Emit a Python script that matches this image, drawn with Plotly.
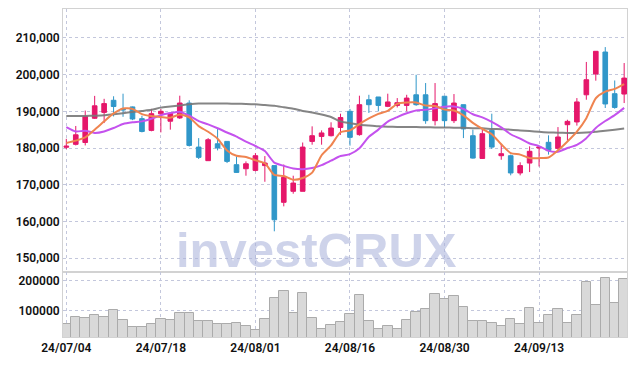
import plotly.graph_objects as go
from plotly.subplots import make_subplots

dates = ["24/07/04","24/07/05","24/07/08","24/07/09","24/07/10","24/07/11","24/07/12","24/07/15","24/07/16","24/07/17",
         "24/07/18","24/07/19","24/07/22","24/07/23","24/07/24","24/07/25","24/07/26","24/07/29","24/07/30","24/07/31",
         "24/08/01","24/08/02","24/08/05","24/08/06","24/08/07","24/08/08","24/08/09","24/08/12","24/08/13","24/08/14",
         "24/08/16","24/08/19","24/08/20","24/08/21","24/08/22","24/08/23","24/08/26","24/08/27","24/08/28","24/08/29",
         "24/08/30","24/09/02","24/09/03","24/09/04","24/09/05","24/09/06","24/09/09","24/09/10","24/09/11","24/09/12",
         "24/09/13","24/09/19","24/09/20","24/09/23","24/09/24","24/09/25","24/09/26","24/09/27","24/09/30","24/10/02"]

open_ = [180200,181000,181500,188100,189700,193000,190600,191200,188000,184800,
         189300,187300,188200,192250,180250,176550,181150,181800,175450,174350,
         173900,175200,175200,165200,168200,168200,181800,183150,183350,185600,
         190000,183650,193150,193900,191350,191600,191600,194500,194500,187450,
         194100,187450,191800,183350,177150,184800,177900,177900,173200,175900,
         180000,181550,179900,186350,187100,194500,200150,206150,194800,194700]
high = [182500,186000,190200,194200,193400,194100,194800,191300,188800,190650,
        190650,189700,194250,193000,182700,182700,185450,181800,177700,176350,
        178600,177800,175200,175500,172450,181500,185900,184800,187000,189350,
        190650,194250,194500,193900,194800,193600,194500,199950,197700,197700,
        194100,194700,191800,185000,185450,189350,181150,178200,176100,180450,
        180250,183450,185700,187700,193600,203450,206350,207500,198400,203150]
low = [179700,180700,180700,187900,186800,188600,188500,187600,184250,184550,
       184250,185000,187900,180400,177000,176550,179350,175900,173200,172450,
       173650,170800,157300,164100,167550,168200,180900,180900,183150,183600,
       180650,183350,189550,190000,191150,191050,190000,191500,186600,186150,
       185450,186800,182700,177100,177000,179750,176800,172550,172550,173450,
       174950,178200,179550,182000,186100,193150,198350,190900,190700,192250]
close = [180500,183600,188600,191500,192100,191300,190400,187900,184500,189350,
         190000,189450,192250,180700,177450,182250,180000,176350,173350,175700,
         177900,175900,160450,172000,170450,180250,183350,184100,185450,188300,
         182900,191800,191800,191600,192550,192350,193600,191800,187450,192100,
         187450,192250,185200,177250,183900,180250,178450,173200,175200,179100,
         180250,179300,183000,187250,192550,198600,206350,192000,191050,199050]
ma5 = [181350,182000,182900,185000,187260,189420,190780,190640,189240,188690,
       188430,188240,189110,188350,185970,184420,182530,179350,177880,177530,
       176660,175840,172660,172390,171340,171810,173300,178030,180720,184290,
       184820,186510,188050,189280,190130,192020,192380,192380,191550,191460,
       190480,190210,188890,186850,185210,183770,181010,178610,178200,177240,
       177240,177410,179370,181780,184470,188140,193550,195350,196110,197410]
ma10 = [185700,184500,184700,184100,184500,185450,186550,187000,187250,187980,
        188930,189510,189880,188800,187330,186430,185390,184230,183120,181750,
        180540,179190,176010,175140,174440,174240,174570,175350,176560,177820,
        178320,179910,183040,185000,187210,188420,189450,190220,190420,190800,
        191250,191300,190640,189200,188340,187130,185610,183750,182530,181230,
        180510,179210,178990,179990,180860,182690,185480,187360,188950,190940]
ma60 = [188700,188700,188750,188800,188900,189200,189500,189800,190100,190400,
        191000,191300,191600,191900,192100,192150,192150,192100,192050,192000,
        191900,191700,191500,191100,190700,190100,189700,189150,188450,187250,
        186750,186350,186100,185900,185800,185750,185700,185700,185650,185600,
        185600,185550,185500,185400,185350,185200,185100,185000,184800,184600,
        184400,184250,184150,184100,184100,184200,184400,184700,185000,185300]
volume = [56700,79000,75700,85700,79000,102300,69000,45700,45700,55700,
          72300,69000,92300,92300,65700,65700,56700,56700,59000,49000,
          35700,72300,142300,165700,92300,159000,75700,39000,52300,62300,
          89000,152300,65700,39000,49000,39000,69000,95700,105700,155700,
          139000,149000,112300,65700,65700,59000,49000,72300,55700,109000,
          59000,85700,105700,59000,85700,196700,119000,209000,125700,205700]
tick_dates = ["24/07/04","24/07/18","24/08/01","24/08/16","24/08/30","24/09/13"]
price_ticks = [150000,160000,170000,180000,190000,200000,210000]
vol_ticks = [100000,200000]

# page body has an 8px default margin; figure is sized to fit inside the 636x366 window
W, H = 620, 350
ml, mr, mt, mb = 55, 1, 1, 21
plot_h = H - mt - mb
split = 65 / plot_h

fig = make_subplots(rows=2, cols=1, shared_xaxes=True, vertical_spacing=0)

fig.add_trace(go.Candlestick(
    x=dates, open=open_, high=high, low=low, close=close,
    increasing=dict(line=dict(color="#e5176a", width=1), fillcolor="#e5176a"),
    decreasing=dict(line=dict(color="#3097c9", width=1), fillcolor="#3097c9"),
    whiskerwidth=0, showlegend=False), row=1, col=1)

for vals, col, w in [(ma60, "rgba(120,120,120,0.9)", 2), (ma10, "#c452ee", 2), (ma5, "#ef8450", 2)]:
    fig.add_trace(go.Scatter(x=dates, y=vals, mode="lines", line=dict(color=col, width=w, shape="spline", smoothing=0.6),
                             showlegend=False, hoverinfo="skip"), row=1, col=1)

fig.add_trace(go.Bar(x=dates, y=volume, marker=dict(color="#d9d9d9", line=dict(color="#ababab", width=1)),
                     showlegend=False), row=2, col=1)

grid = dict(showgrid=True, gridcolor="#c3c7dc", griddash="dot", gridwidth=1, automargin=False,
            showline=True, linecolor="#d2d2d2", linewidth=1, mirror=True, zeroline=False)
tickfont = dict(family="Roboto, sans-serif", size=12, color="#111111", weight=600)

fig.update_xaxes(type="category", range=[-0.35, 59.3], tickmode="array", tickvals=tick_dates, ticktext=tick_dates,
                 rangeslider=dict(visible=False), ticks="", tickfont=tickfont, **grid)
fig.update_xaxes(showticklabels=False, row=1, col=1)
fig.update_yaxes(range=[146213, 217875], tickvals=price_ticks, tickformat=",d", ticks="", tickfont=tickfont,
                 domain=[split, 1], row=1, col=1, **grid)
fig.update_yaxes(range=[12300, 229000], tickvals=vol_ticks, tickformat="d", ticks="", tickfont=tickfont,
                 domain=[0, split], row=2, col=1, **grid)

fig.add_annotation(text="<b>investCRUX</b>", xref="paper", yref="paper", x=(316.5 - 63) / (627 - 63),
                   y=(337 - 279) / plot_h, xanchor="center", yanchor="bottom", showarrow=False,
                   font=dict(family="Liberation Sans, Arial, sans-serif", size=49, color="rgba(170,180,218,0.58)"))

fig.update_layout(width=W, height=H, margin=dict(l=ml, r=mr, t=mt, b=mb, autoexpand=False), paper_bgcolor="white",
                  plot_bgcolor="white", bargap=0, showlegend=False)

fig.write_html("out.html")
